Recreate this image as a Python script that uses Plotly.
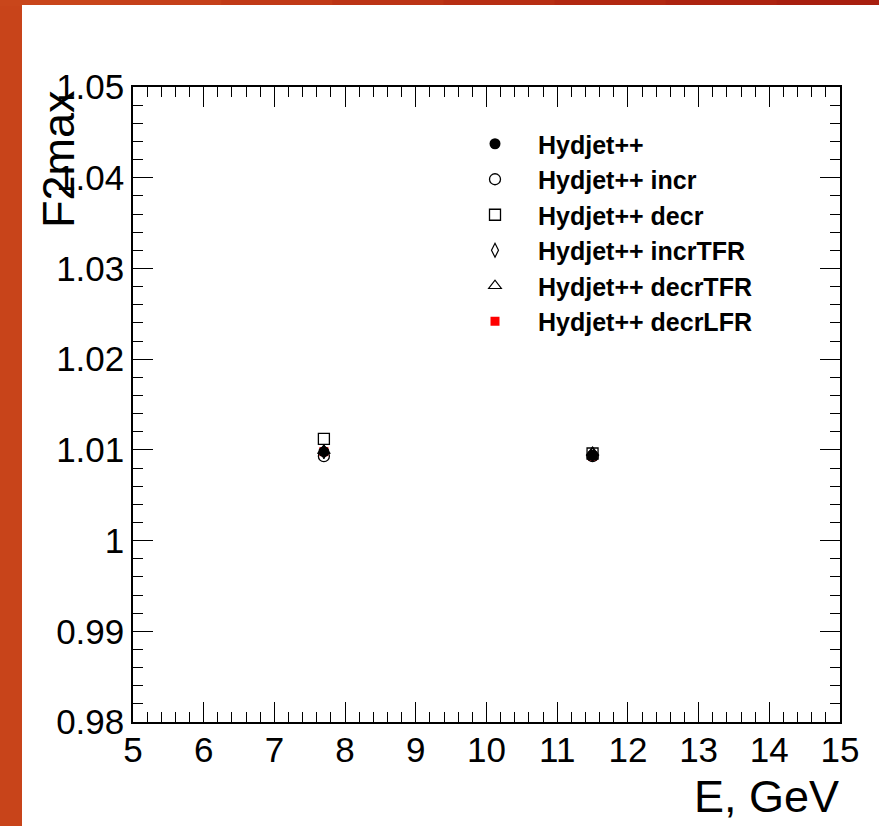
import plotly.graph_objects as go

# ---- data ----
energy = [7.7, 11.5]
hydjet = [1.0098, 1.0094]
hydjet_incr = [1.0093, 1.0093]
hydjet_decr = [1.0112, 1.0096]
hydjet_incrTFR = [1.0098, 1.0095]
hydjet_decrTFR = [1.0099, 1.0097]
hydjet_decrLFR = [1.0098, 1.0093]

series_names = ["Hydjet++", "Hydjet++ incr", "Hydjet++ decr",
                "Hydjet++ incrTFR", "Hydjet++ decrTFR", "Hydjet++ decrLFR"]
series_values = [hydjet, hydjet_incr, hydjet_decr,
                 hydjet_incrTFR, hydjet_decrTFR, hydjet_decrLFR]

x_range = [5, 15]
y_range = [0.98, 1.05]
y_tickvals = [0.98, 0.99, 1.0, 1.01, 1.02, 1.03, 1.04, 1.05]
y_ticktext = ["0.98", "0.99", "1", "1.01", "1.02", "1.03", "1.04", "1.05"]

# ---- styles ----
styles = [
    dict(symbol="circle", size=11, color="black", lw=0),
    dict(symbol="circle-open", size=11, color="black", lw=1.3),
    dict(symbol="square-open", size=11, color="black", lw=1.3),
    dict(symbol="diamond-tall-open", size=10, color="black", lw=1.2),
    dict(symbol="triangle-up-open", size=11, color="black", lw=1.2),
    dict(symbol="square", size=9, color="red", lw=0),
]
draw_order = [5, 4, 3, 2, 1, 0]  # red square underneath, filled circle on top

fig = go.Figure()
for i in draw_order:
    st = styles[i]
    fig.add_trace(go.Scatter(
        x=energy, y=series_values[i], mode="markers", name=series_names[i],
        legendrank=i + 1, legendgroup=f"g{i}",
        marker=dict(symbol=st["symbol"], size=st["size"], color=st["color"],
                    line=dict(width=st["lw"], color=st["color"])),
    ))

W, H = 879, 826
L, R, T, B = 133, 39, 87, 104
pw, ph = W - L - R, H - T - B


def px_x(px):
    return (px - L) / pw


def px_y(py):
    return (H - B - py) / ph


font = "Liberation Sans, Arial, Helvetica, sans-serif"

axis_common = dict(
    showgrid=False, zeroline=False, showline=True, linecolor="black", linewidth=1.5,
    mirror="ticks", ticks="inside", ticklen=20, tickwidth=1.2, tickcolor="black",
    tickfont=dict(family=font, size=35, color="black"),
)

fig.update_xaxes(range=x_range, dtick=1, tick0=5, ticklabelstandoff=-4,
                 minor=dict(ticks="inside", ticklen=10, dtick=0.2, tickwidth=1.2, tickcolor="black"),
                 **axis_common)
fig.update_yaxes(range=y_range, tickvals=y_tickvals, ticktext=y_ticktext,
                 minor=dict(ticks="inside", ticklen=10, dtick=0.002, tickwidth=1.2, tickcolor="black"),
                 **axis_common)

# background: orange slide frame with white page
shapes = []
top_cols = ["#C9461B", "#C5401A", "#C13A17", "#BC3415", "#B72E13", "#B22811", "#AD2310", "#A81F0F"]
seg = (W + 10) / len(top_cols)
for k, c in enumerate(top_cols):
    shapes.append(dict(type="rect", xref="paper", yref="paper", layer="below",
                       x0=px_x(k * seg - 1), x1=px_x((k + 1) * seg + 1),
                       y0=px_y(6), y1=px_y(-5), fillcolor=c, line=dict(width=0)))
shapes.append(dict(type="rect", xref="paper", yref="paper", layer="below",
                   x0=px_x(22), x1=px_x(W + 5), y0=px_y(H + 5), y1=px_y(5),
                   fillcolor="white", line=dict(width=0)))

annotations = [
    dict(text="F2max", textangle=-90, xref="paper", yref="paper",
         x=px_x(58), y=px_y(88), xanchor="center", yanchor="top", showarrow=False,
         font=dict(family=font, size=45, color="black")),
    dict(text="E, GeV", xref="paper", yref="paper",
         x=px_x(841), y=px_y(796), xanchor="right", yanchor="middle", showarrow=False,
         font=dict(family=font, size=45, color="black")),
]

fig.update_layout(
    width=W, height=H,
    margin=dict(l=L, r=R, t=T, b=B),
    paper_bgcolor="#C8441A", plot_bgcolor="white",
    shapes=shapes, annotations=annotations,
    showlegend=True,
    legend=dict(x=px_x(452), y=px_y(121), xanchor="left", yanchor="top",
                bgcolor="rgba(0,0,0,0)", borderwidth=0,
                traceorder="grouped", tracegroupgap=0, itemwidth=76,
                font=dict(family=font, size=25, color="black", weight="bold")),
)

fig.write_html("out.html", config={"displayModeBar": False},
               post_script="document.body.style.margin='0';document.body.style.overflow='hidden';")
